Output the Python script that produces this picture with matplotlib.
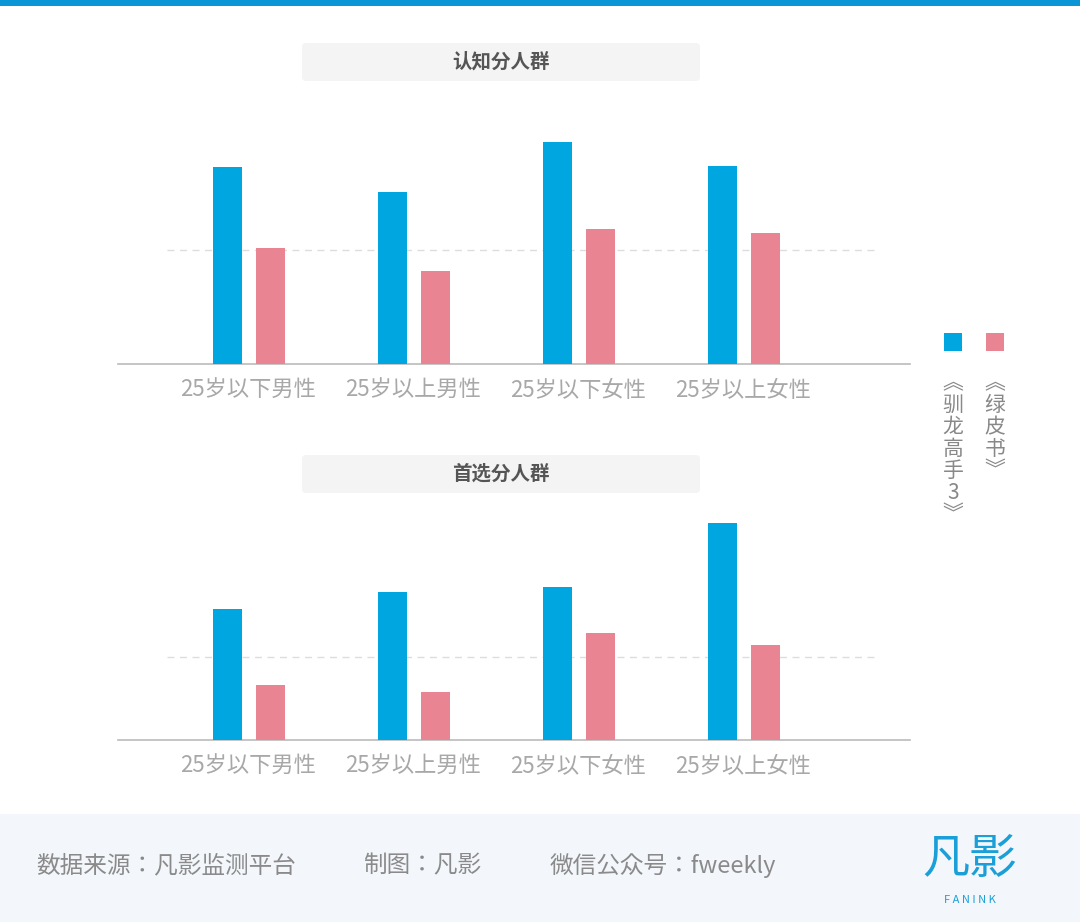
import matplotlib
matplotlib.use("Agg")
import matplotlib.pyplot as plt
from matplotlib import font_manager
from matplotlib.patches import FancyBboxPatch, Rectangle
import numpy as np

cjk = [f.name for f in font_manager.fontManager.ttflist if "CJK" in f.name]
plt.rcParams["font.family"] = "sans-serif"
plt.rcParams["font.sans-serif"] = (sorted(set(cjk)) or []) + ["DejaVu Sans"]

CATEGORIES = ["25岁以下男性", "25岁以上男性", "25岁以下女性", "25岁以上女性"]
SERIES = ["《驯龙高手3》", "《绿皮书》"]
AWARE_DRAGON = [173, 151, 195, 174]
AWARE_GREEN = [102, 82, 118, 115]
PREF_DRAGON = [158, 178, 184, 261]
PREF_GREEN = [66, 58, 129, 114]
REF_LEVEL = 100

BLUE = "#00a6e0"
PINK = "#e98593"
W, H = 1080, 922


def px_axes(fig, x0, y0, x1, y1):
    return fig.add_axes([x0 / W, 1 - y1 / H, (x1 - x0) / W, (y1 - y0) / H])


def panel(fig, top, base, ymax, dragon, green, title, title_y):
    ax = px_axes(fig, 118, top, 910, base)
    x = np.arange(len(CATEGORIES))
    ax.bar(x - 0.126, dragon, width=0.176, color=BLUE, zorder=3)
    ax.bar(x + 0.138, green, width=0.176, color=PINK, zorder=3)
    ax.hlines(REF_LEVEL, -0.49, 3.81, colors="#dddddd", linestyles=(0, (5, 4)), linewidth=1, zorder=1)
    ax.set_xlim(-0.788, 4.012)
    ax.set_ylim(0, ymax)
    for s in ["top", "right", "left"]:
        ax.spines[s].set_visible(False)
    ax.spines["bottom"].set_color("#bbbbbb")
    ax.spines["bottom"].set_linewidth(1.2)
    ax.set_yticks([])
    ax.set_xticks(x)
    ax.set_xticklabels(CATEGORIES, fontsize=16, color="#a8a8a8")
    ax.tick_params(axis="x", length=0, pad=11)
    fig.patches.append(FancyBboxPatch((302 / W, 1 - (title_y + 19) / H), 398 / W, 38 / H,
                                      boxstyle="round,pad=0,rounding_size=0.004",
                                      transform=fig.transFigure, facecolor="#f4f4f4",
                                      edgecolor="none", zorder=0))
    fig.text(501 / W, 1 - title_y / H, title, ha="center", va="center",
             fontsize=14, fontweight="bold", color="#555555")


fig = plt.figure(figsize=(10.8, 9.22), dpi=100)
fig.patch.set_facecolor("white")

# top stripe and footer band
fig.patches.append(Rectangle((0, 1 - 6 / H), 1, 6 / H, transform=fig.transFigure,
                             facecolor="#0a95d6", edgecolor="none"))
fig.patches.append(Rectangle((0, 0), 1, 108 / H, transform=fig.transFigure,
                             facecolor="#f3f7fb", edgecolor="none"))

panel(fig, 120, 364, 244 / 1.14, AWARE_DRAGON, AWARE_GREEN, "认知分人群", 62)
panel(fig, 490, 740, 250 / 0.83, PREF_DRAGON, PREF_GREEN, "首选分人群", 474)

# legend with vertical labels
for xc, col, name in [(953, BLUE, SERIES[0]), (995, PINK, SERIES[1])]:
    fig.patches.append(Rectangle(((xc - 9) / W, 1 - 351 / H), 18 / W, 18 / H,
                                 transform=fig.transFigure, facecolor=col, edgecolor="none"))
    label = name.replace("《", "︽").replace("》", "︾")
    fig.text(xc / W, 1 - 372 / H, "\n".join(label), ha="center", va="top",
             fontsize=15, color="#888888", linespacing=1.0)

# footer
footer_y = 1 - 866 / H
fig.text(36 / W, footer_y, "数据来源：凡影监测平台", fontsize=17, color="#8a8a8a", va="center")
fig.text(363 / W, footer_y, "制图：凡影", fontsize=17, color="#8a8a8a", va="center")
fig.text(550 / W, footer_y, "微信公众号：fweekly", fontsize=17, color="#8a8a8a", va="center")
fig.text(970 / W, 1 - 860 / H, "凡影", fontsize=34, color="#1a9fd8", ha="center", va="center")
fig.text(970 / W, 1 - 900 / H, "F A N I N K", fontsize=8, color="#1a9fd8", ha="center", va="center")

fig.savefig("out.png", dpi=100)
